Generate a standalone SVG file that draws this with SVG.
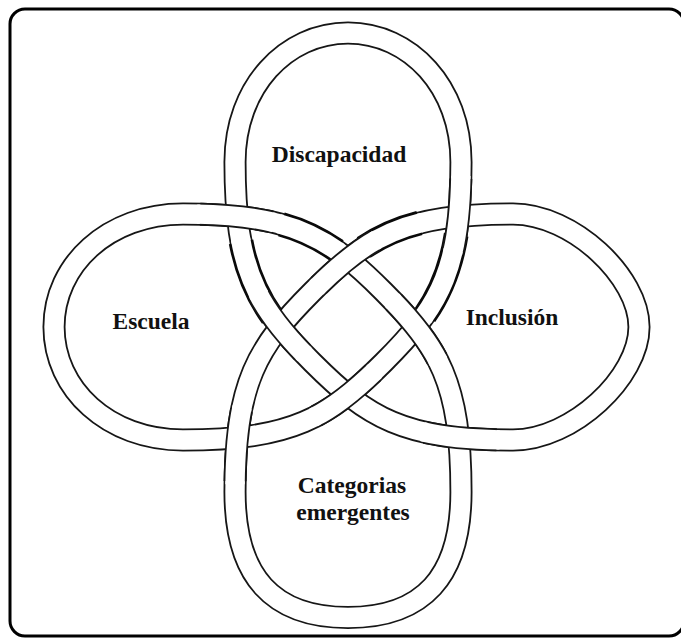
<svg xmlns="http://www.w3.org/2000/svg" width="681" height="639" viewBox="0 0 681 639">
<defs>
<path id="knotPath" pathLength="3228" d="M 0,-294 C -62,-294 -113,-240 -113,-165 C -113,-55 -90.5,-19.5 -35.5,35.5 C 19.5,90.5 55,113 165,113 C 225,113 291,50 291,0 C 291,-50 225,-113 165,-113 C 55,-113 19.5,-90.5 -35.5,-35.5 C -90.5,19.5 -113,55 -113,165 C -113,250 -75,290.5 0,290.5 C 75,290.5 113,250 113,165 C 113,55 90.5,19.5 35.5,-35.5 C -19.5,-90.5 -55,-113 -165,-113 C -240,-113 -294,-62 -294,0 C -294,62 -240,113 -165,113 C -55,113 -19.5,90.5 35.5,35.5 C 90.5,-19.5 113,-55 113,-165 C 113,-240 62,-294 0,-294 Z"/>
</defs>
<style>
.edge{fill:none;stroke:#161616;stroke-width:23}
.band{fill:none;stroke:#ffffff;stroke-width:19.4}
.thickEdge{fill:none;stroke:#0a0a0a;stroke-width:24.8;stroke-dasharray:0 265 80 728 60 942 60 750 85 258}
.thickBand{fill:none;stroke:#ffffff;stroke-width:19.4;stroke-dasharray:0 262 86 722 66 936 66 744 91 255}
.overEdge{stroke-dasharray:0 320.8 70 146 70 513.8 70 146 70 522.8 70 146 70 523.6 70 146 70 203}
.overBand{stroke-dasharray:0 317.8 76 140 76 507.8 76 140 76 516.8 76 140 76 517.6 76 140 76 200}
.lbl{font-family:"Liberation Serif","Times New Roman",serif;font-weight:bold;font-size:23.5px;fill:#111;text-anchor:middle}
.frame{fill:none;stroke:#000;stroke-width:3}
</style>
<rect width="681" height="639" fill="#fff"/>
<rect class="frame" x="10" y="9" width="674" height="627" rx="15"/>
<g id="connectors" transform="translate(348,327)">
<use href="#knotPath" class="edge"/>
<use href="#knotPath" class="band"/>
<use href="#knotPath" class="thickEdge"/>
<use href="#knotPath" class="thickBand"/>
<use href="#knotPath" class="edge overEdge"/>
<use href="#knotPath" class="band overBand"/>
</g>
<g id="discapacidad"><text class="lbl" x="339" y="162">Discapacidad</text></g>
<g id="escuela"><text class="lbl" x="151" y="329">Escuela</text></g>
<g id="inclusion"><text class="lbl" x="512" y="325">Inclusión</text></g>
<g id="categorias"><text class="lbl" x="352" y="493">Categorias</text><text class="lbl" x="353" y="520">emergentes</text></g>
</svg>
